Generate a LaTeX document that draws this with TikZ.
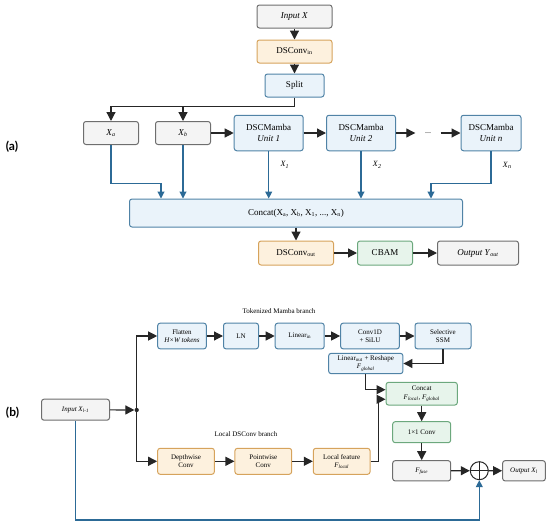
\documentclass[tikz,border=0pt]{standalone}
\usepackage{fontspec}
\setmainfont{Liberation Serif}
\newfontfamily\panelfont{Lato}
\usetikzlibrary{arrows.meta,positioning,calc}
\usepackage{xcolor}
\definecolor{dark}{HTML}{262626}
\definecolor{skipblue}{HTML}{2C6A96}
\definecolor{grayfill}{HTML}{F4F4F4}
\definecolor{graydraw}{HTML}{6E6E6E}
\definecolor{bluefill}{HTML}{EAF3FA}
\definecolor{bluedraw}{HTML}{5083A6}
\definecolor{orangefill}{HTML}{FDF1DE}
\definecolor{orangedraw}{HTML}{D6A35C}
\definecolor{greenfill}{HTML}{E7F4EB}
\definecolor{greendraw}{HTML}{6CA87D}
\newcommand{\isub}[2]{\textit{#1}\textsubscript{\textit{#2}}}
\tikzset{
  box/.style={rounded corners=2.5pt, line width=1pt, align=center, inner sep=2pt, font=\fontsize{9}{10.5}\selectfont},
  graybox/.style={box, draw=graydraw, fill=grayfill},
  bluebox/.style={box, draw=bluedraw, fill=bluefill},
  orangebox/.style={box, draw=orangedraw, fill=orangefill},
  greenbox/.style={box, draw=greendraw, fill=greenfill},
  partb/.style={font=\fontsize{7}{8.2}\selectfont},
  arrow/.style={-{Triangle[length=9pt,width=9pt]}, line width=1.2pt, draw=dark},
  barrow/.style={-{Triangle[length=7pt,width=7pt]}, line width=1.1pt, draw=skipblue}
}

\begin{document}
\begin{tikzpicture}[x=1pt, y=-1pt]
  \useasboundingbox (0,0) rectangle (550,525);
  % (a)
  \node[font=\panelfont\bfseries\fontsize{12}{13}\selectfont] (labela) at (12,147) {(a)};
  \node[graybox, minimum width=75pt, minimum height=23pt] (inx) at (294.5,16.5) {\textit{Input X}};
  \node[orangebox, minimum width=75pt, minimum height=23pt] (dsin) at (294.5,51.5) {DSConv\textsubscript{in}};
  \node[bluebox, minimum width=59pt, minimum height=23pt] (split) at (294.5,85.5) {Split};
  \coordinate (fork) at (294.5,106.3);
  \node[graybox, minimum width=55pt, minimum height=23pt] (xa) at (111,133) {\isub{X}{a}};
  \node[graybox, minimum width=55pt, minimum height=23pt] (xb) at (183,133) {\isub{X}{b}};
  \node[bluebox, minimum width=69pt, minimum height=35.5pt] (unit1) at (268.7,133) {DSCMamba\\\textit{Unit 1}};
  \node[bluebox, minimum width=69pt, minimum height=35.5pt] (unit2) at (361,133) {DSCMamba\\\textit{Unit 2}};
  \node[font=\fontsize{8}{9}\selectfont, minimum width=25pt] (dots) at (428,133) {...};
  \node[bluebox, minimum width=60pt, minimum height=35.5pt] (unitn) at (491,133) {DSCMamba\\\textit{Unit n}};
  \node[bluebox, minimum width=333pt, minimum height=28pt] (concat) at (296,213) {Concat(X\textsubscript{a}, X\textsubscript{b}, X\textsubscript{1}, ..., X\textsubscript{n})};
  \node[orangebox, minimum width=75pt, minimum height=24pt] (dsout) at (296,253) {DSConv\textsubscript{out}};
  \node[greenbox, minimum width=55pt, minimum height=24pt] (cbam) at (385,253) {CBAM};
  \node[graybox, minimum width=81pt, minimum height=24pt] (outy) at (478,253) {\textit{Output Y}\textsubscript{\textit{out}}};
  \coordinate (ina) at (161,183.8);
  \coordinate (inn) at (431,183.8);
  \draw[arrow] (inx) -- (dsin);
  \draw[arrow] (dsin) -- (split);
  \draw[arrow] (split) -- (fork) -| (xa);
  \draw[arrow] (fork -| xb) -- (xb);
  \draw[arrow] (xb) -- (unit1);
  \draw[arrow] (unit1) -- (unit2);
  \draw[arrow] (unit2) -- (dots);
  \draw[arrow] (dots) -- (unitn);
  \draw[barrow] (xa) |- (ina) -- (ina |- concat.north);
  \draw[barrow] (xb) -- (xb |- concat.north);
  \draw[barrow] (unit1) -- (unit1 |- concat.north) node[pos=0.29, right=8pt, font=\fontsize{8}{9}\selectfont] {\isub{X}{1}};
  \draw[barrow] (unit2) -- (unit2 |- concat.north) node[pos=0.29, right=8pt, font=\fontsize{8}{9}\selectfont] {\isub{X}{2}};
  \draw[barrow] (unitn) |- (inn) node[pos=0.21, right=8pt, font=\fontsize{8}{9}\selectfont] {\isub{X}{n}} -- (inn |- concat.north);
  \draw[arrow] (concat) -- (dsout);
  \draw[arrow] (dsout) -- (cbam);
  \draw[arrow] (cbam) -- (outy);
  % (b)
  \node[font=\panelfont\bfseries\fontsize{12}{13}\selectfont] (labelb) at (12.5,413) {(b)};
  \node[graybox, partb, minimum width=68pt, minimum height=21pt] (inb) at (75.5,409.7) {\textit{Input X}\textsubscript{\textit{l-1}}};
  \node[circle, fill=dark, inner sep=1.5pt] (dot) at (136.7,410) {};
  \node[partb] (tok) at (279,311) {Tokenized Mamba branch};
  \node[partb] (loc) at (246,434.5) {Local DSConv branch};
  \node[bluebox, partb, minimum width=48.6pt, minimum height=25.7pt] (flat) at (182,336) {Flatten\\\textit{H×W tokens}};
  \node[bluebox, partb, minimum width=35pt, minimum height=25.7pt] (ln) at (241,336) {LN};
  \node[bluebox, partb, minimum width=49pt, minimum height=25.7pt] (linin) at (299.7,336) {Linear\textsubscript{in}};
  \node[bluebox, partb, minimum width=58.7pt, minimum height=25.7pt] (conv) at (370,336) {Conv1D\\+ SiLU};
  \node[bluebox, partb, minimum width=56pt, minimum height=25.7pt] (ssm) at (443,336) {Selective\\SSM};
  \node[bluebox, partb, minimum width=74.3pt, minimum height=20.3pt] (linout) at (365.8,363.5) {Linear\textsubscript{out} + Reshape\\\isub{F}{global}};
  \node[greenbox, partb, minimum width=71.3pt, minimum height=22.7pt] (cat) at (421.7,393.7) {Concat\\\isub{F}{local}, \isub{F}{global}};
  \node[greenbox, partb, minimum width=58pt, minimum height=21pt] (conv11) at (421.7,432.2) {1×1 Conv};
  \node[graybox, partb, minimum width=58pt, minimum height=20.3pt] (ffuse) at (421.7,470.8) {\isub{F}{fuse}};
  \node[circle, draw=dark, line width=1pt, fill=white, minimum size=18pt, inner sep=0pt,
        path picture={\draw[dark, line width=1pt] (path picture bounding box.north) -- (path picture bounding box.south)
                      (path picture bounding box.west) -- (path picture bounding box.east);}] (plus) at (479.3,470.7) {};
  \node[graybox, partb, minimum width=42.7pt, minimum height=20.3pt] (outb) at (524,470.8) {\textit{Output X}\textsubscript{\textit{l}}};
  \node[orangebox, partb, minimum width=56.7pt, minimum height=26pt] (dw) at (186,461.3) {Depthwise\\Conv};
  \node[orangebox, partb, minimum width=56.7pt, minimum height=26pt] (pw) at (263.3,461.3) {Pointwise\\Conv};
  \node[orangebox, partb, minimum width=56.7pt, minimum height=26pt] (lf) at (341.7,461.3) {Local feature\\\isub{F}{local}};
  \draw[arrow] (inb) -- (dot);
  \draw[arrow] (dot) |- (flat);
  \draw[arrow] (dot) |- (dw);
  \draw[arrow] (flat) -- (ln);
  \draw[arrow] (ln) -- (linin);
  \draw[arrow] (linin) -- (conv);
  \draw[arrow] (conv) -- (ssm);
  \draw[arrow] (ssm) |- (linout);
  \draw[arrow] (linout) |- ([yshift=4pt]cat.west);
  \draw[arrow] (dw) -- (pw);
  \draw[arrow] (pw) -- (lf);
  \draw[arrow] (lf.east) -- ++(7.7,0) |- ([yshift=-5.6pt]cat.west);
  \draw[arrow] (cat) -- (conv11);
  \draw[arrow] (conv11) -- (ffuse);
  \draw[arrow] (ffuse) -- (plus);
  \draw[arrow] (plus) -- (outb);
  \draw[barrow] (inb.south) -- ++(0,99.3) -| (plus.south);
\end{tikzpicture}
\end{document}
